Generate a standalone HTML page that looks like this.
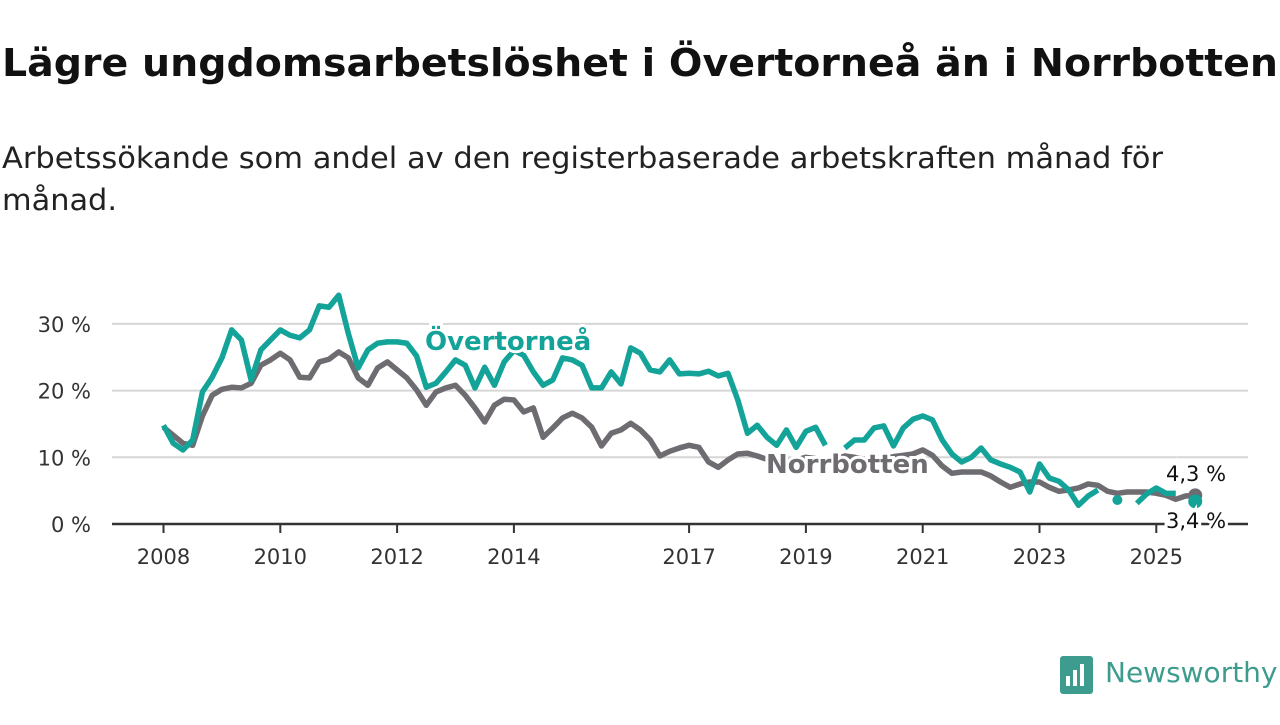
<!DOCTYPE html>
<html><head><meta charset="utf-8"><style>
body{margin:0;width:1280px;height:720px;background:#fff;overflow:hidden;font-family:"Liberation Sans","DejaVu Sans",sans-serif;}
svg text{font-family:"DejaVu Sans","Liberation Sans",sans-serif;}
</style></head><body>
<svg id="c" width="1280" height="720">
<text x="2" y="76" font-size="38" font-weight="bold" fill="#111" textLength="1276" lengthAdjust="spacingAndGlyphs">Lägre ungdomsarbetslöshet i Övertorneå än i Norrbotten</text>
<text x="2" y="168" font-size="29" fill="#222" textLength="1161" lengthAdjust="spacingAndGlyphs">Arbetssökande som andel av den registerbaserade arbetskraften månad för</text>
<text x="2" y="210" font-size="29" fill="#222" textLength="115" lengthAdjust="spacingAndGlyphs">månad.</text>
<g id="grid"></g><g id="lines"></g><g id="labels"></g>
<g>
<rect x="1060" y="656" width="33" height="38" rx="3" fill="#3d9c8e"/>
<rect x="1066" y="676" width="4" height="10" fill="#fff"/><rect x="1073" y="670" width="4" height="16" fill="#fff"/><rect x="1080" y="664" width="4" height="22" fill="#fff"/>
<text x="1105" y="682" font-size="28" fill="#3d9c8e" font-family="Liberation Sans">Newsworthy</text>
</g>
</svg>
<script>
const startYear = 2008;
const stepMonths = 2;
const yTicks = [0, 10, 20, 30];
const xTicks = [2008, 2010, 2012, 2014, 2017, 2019, 2021, 2023, 2025];
const norrbotten = [14.5,13.3,12.1,11.8,16.2,19.3,20.2,20.5,20.4,21.1,23.8,24.6,25.6,24.6,22.0,21.9,24.3,24.7,25.8,24.9,21.9,20.8,23.4,24.3,23.1,21.9,20.1,17.8,19.8,20.4,20.8,19.3,17.4,15.3,17.8,18.7,18.6,16.8,17.4,13.0,14.4,15.9,16.6,15.9,14.5,11.7,13.6,14.1,15.1,14.1,12.6,10.2,10.9,11.4,11.8,11.5,9.3,8.5,9.6,10.5,10.6,10.2,9.7,9.8,9.5,9.6,10.0,9.8,9.4,9.6,10.2,10.0,9.7,9.5,9.8,10.1,10.3,10.5,11.1,10.3,8.7,7.6,7.8,7.8,7.8,7.2,6.3,5.5,6.0,6.3,6.3,5.5,4.9,5.1,5.4,6.0,5.8,4.9,4.6,4.8,4.8,4.8,4.6,4.3,3.7,4.2,4.3];
const overtornea = [14.8,12.1,11.1,12.6,19.8,22.0,24.9,29.1,27.6,21.6,26.1,27.6,29.1,28.3,27.9,29.1,32.7,32.5,34.3,28.5,23.4,26.1,27.1,27.3,27.3,27.1,25.2,20.5,21.1,22.8,24.6,23.8,20.4,23.5,20.8,24.3,26.0,25.3,22.8,20.8,21.6,24.9,24.6,23.8,20.4,20.4,22.8,21.0,26.4,25.6,23.1,22.8,24.6,22.5,22.6,22.5,22.9,22.2,22.6,18.6,13.6,14.8,13.0,11.8,14.1,11.5,13.9,14.5,11.8,null,11.4,12.6,12.6,14.4,14.7,11.7,14.4,15.7,16.2,15.6,12.6,10.5,9.3,10.0,11.4,9.6,9.0,8.5,7.8,4.8,9.0,6.9,6.4,5.1,2.8,4.2,5.1,null,3.6,null,3.1,4.5,5.4,4.6,4.6,null,3.4];

const X0=163.5, PXY=58.4, Y0=524, PXV=6.67, L=112, R=1248;
const xOfYear = y => X0 + (y - startYear) * PXY;
const xOfIdx = i => xOfYear(startYear + i * stepMonths / 12);
const yOf = v => Y0 - v * PXV;
const NS="http://www.w3.org/2000/svg";
function mk(tag, attrs, parent){const e=document.createElementNS(NS,tag);for(const k in attrs)e.setAttribute(k,attrs[k]);parent.appendChild(e);return e;}
const grid=document.getElementById('grid'), lines=document.getElementById('lines'), labels=document.getElementById('labels');
yTicks.forEach(t=>{
  if(t>0){const g=mk('line',{x1:L,x2:R,y1:yOf(t),y2:yOf(t),stroke:'#d6d6d6','stroke-width':2},grid);
  
  }
  const tx=mk('text',{x:91,y:yOf(t)+8,'font-size':21,'text-anchor':'end',fill:'#333'},grid);
  tx.textContent=t+' %';
  
  
});
const ax=mk('line',{x1:L,x2:R,y1:Y0,y2:Y0,stroke:'#333','stroke-width':2.5},grid);


xTicks.forEach(y=>{
  const x=xOfYear(y);
  const tk=mk('line',{x1:x,x2:x,y1:Y0,y2:Y0+9,stroke:'#333','stroke-width':2},grid);
  
  
  const tx=mk('text',{x:x,y:Y0+40,'font-size':21,'text-anchor':'middle',fill:'#333'},grid);
  tx.textContent=y;
  
  
});
function drawSeries(vals,color,name){
  let segs=[],cur=[];
  vals.forEach((v,i)=>{if(v===null){if(cur.length)segs.push(cur);cur=[];}else cur.push([xOfIdx(i),yOf(v)]);});
  if(cur.length)segs.push(cur);
  segs.forEach((s,k)=>{
    if(s.length===1){const c=mk('circle',{cx:s[0][0],cy:s[0][1],r:5,fill:color},lines);
      
      return;}
    const p=mk('polyline',{points:s.map(q=>q.join(',')).join(' '),fill:'none',stroke:color,'stroke-width':5.5,'stroke-linejoin':'round'},lines);
    
    
  });
  const li=vals.length-1;
  const e=mk('circle',{cx:xOfIdx(li),cy:yOf(vals[li]),r:7,fill:color},lines);
  
  
}
drawSeries(norrbotten,'#6e6b71','norrbotten');
drawSeries(overtornea,'#13a398','overtornea');
function label(txt,x,y,size,color,bold,name){
  const t=mk('text',{x:x,y:y,'font-size':size,fill:color,'font-weight':bold?'bold':'normal',stroke:'#fff','stroke-width':6,'paint-order':'stroke'},labels);
  t.textContent=txt;
  
  
}
label('Övertorneå',425,350,26,'#13a398',true,'overtornea-label');
label('Norrbotten',766,473,26,'#6e6b71',true,'norrbotten-label');
label('4,3 %',1166,481,21,'#111',false,'norrbotten-end-value');
label('3,4 %',1166,528,21,'#111',false,'overtornea-end-value');
</script>
</body></html>
